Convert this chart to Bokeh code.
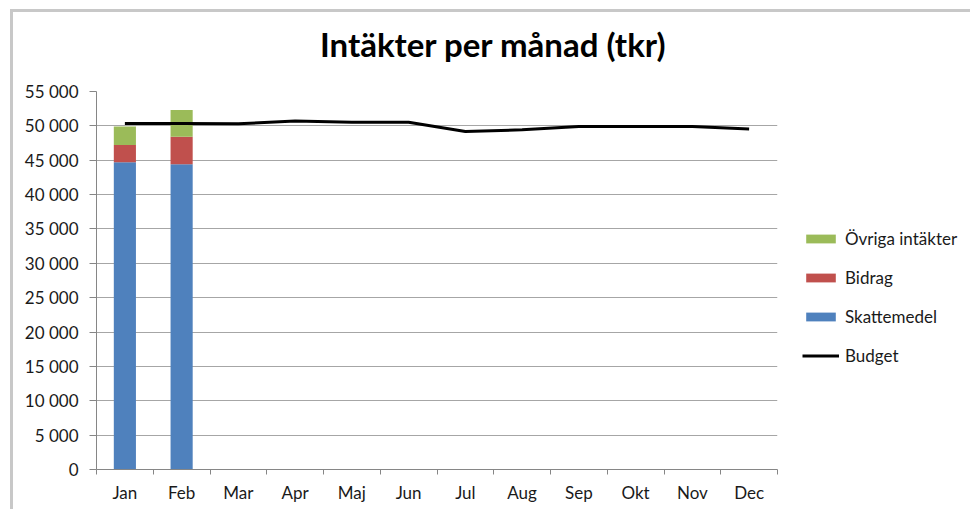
from bokeh.plotting import figure
from bokeh.models import (FixedTicker, Legend, LegendItem, Range1d, ColumnDataSource, Div)
from bokeh.layouts import column
from bokeh.embed import file_html
from bokeh.resources import INLINE

# ---- data ----
months = ["Jan", "Feb", "Mar", "Apr", "Maj", "Jun", "Jul", "Aug", "Sep", "Okt", "Nov", "Dec"]
actual_months = ["Jan", "Feb"]
skattemedel = [44700, 44400]
bidrag = [2500, 4000]
ovriga = [2700, 3900]
budget = [50330, 50330, 50300, 50700, 50540, 50540, 49170, 49420, 49900, 49900, 49900, 49560]
y_ticks = [0, 5000, 10000, 15000, 20000, 25000, 30000, 35000, 40000, 45000, 50000, 55000]
y_tick_labels = ["0", "5 000", "10 000", "15 000", "20 000", "25 000", "30 000",
                 "35 000", "40 000", "45 000", "50 000", "55 000"]
title_text = "Intäkter per månad (tkr)"
series_names = ["Skattemedel", "Bidrag", "Övriga intäkter"]
series_colors = ["#4F81BD", "#C0504D", "#9BBB59"]
budget_name = "Budget"

FONT = "Lato"
FRAME_W, FRAME_H = 681, 378
LEFT, RIGHT, TOP, BOTTOM = 83, 188, 26, 40
FIG_W = LEFT + FRAME_W + RIGHT

# month centre positions on a numeric axis (one unit per month)
centers = [i + 0.5 for i in range(len(months))]
bar_x = [months.index(m) + 0.5 for m in actual_months]

bar_src = ColumnDataSource(dict(x=bar_x, Skattemedel=skattemedel, Bidrag=bidrag, Ovriga=ovriga))
line_src = ColumnDataSource(dict(x=centers, budget=budget))

p = figure(output_backend="svg", toolbar_location=None,
           x_range=Range1d(0, len(months)), y_range=Range1d(0, 55000),
           frame_width=FRAME_W, frame_height=FRAME_H)
p.min_border_left = LEFT
p.min_border_top = TOP
p.min_border_right = RIGHT
p.min_border_bottom = BOTTOM
p.outline_line_color = None
p.background_fill_color = "white"
p.border_fill_color = "white"
p.margin = 0

renderers = p.vbar_stack(["Skattemedel", "Bidrag", "Ovriga"], x="x", width=0.39,
                         color=series_colors, source=bar_src, line_color=None)
line_r = p.line("x", "budget", source=line_src, line_color="black", line_width=3)

# axes
p.yaxis.ticker = FixedTicker(ticks=y_ticks)
p.yaxis.major_label_overrides = {t_: l for t_, l in zip(y_ticks, y_tick_labels)}
p.yaxis.axis_line_color = "#868686"
p.yaxis.major_tick_line_color = "#868686"
p.yaxis.major_tick_out = 7
p.yaxis.major_tick_in = 0
p.yaxis.minor_tick_line_color = None
p.yaxis.major_label_standoff = 11
p.yaxis.major_label_text_font = FONT
p.yaxis.major_label_text_font_size = "17px"
p.yaxis.major_label_text_color = "#1a1a1a"

p.xaxis.ticker = FixedTicker(ticks=centers, minor_ticks=list(range(len(months) + 1)))
p.xaxis.major_label_overrides = {c: m for c, m in zip(centers, months)}
p.xaxis.axis_line_color = "#868686"
p.xaxis.major_tick_line_color = None
p.xaxis.major_tick_out = 0
p.xaxis.major_tick_in = 0
p.xaxis.minor_tick_line_color = "#868686"
p.xaxis.minor_tick_out = 5
p.xaxis.minor_tick_in = 0
p.xaxis.major_label_standoff = 7
p.xaxis.major_label_text_font = FONT
p.xaxis.major_label_text_font_size = "17px"
p.xaxis.major_label_text_color = "#1a1a1a"

p.xgrid.grid_line_color = None
p.ygrid.grid_line_color = "#a6a6a6"
p.ygrid.grid_line_width = 1

items = [LegendItem(label=series_names[2], renderers=[renderers[2]]),
         LegendItem(label=series_names[1], renderers=[renderers[1]]),
         LegendItem(label=series_names[0], renderers=[renderers[0]]),
         LegendItem(label=budget_name, renderers=[line_r])]
legend = Legend(items=items, location=(25, 103), orientation="vertical",
                glyph_width=37, glyph_height=11, label_height=20, spacing=18,
                label_standoff=6, padding=0, margin=0,
                border_line_color=None, background_fill_alpha=0,
                label_text_font=FONT, label_text_font_size="17px", label_text_color="#1a1a1a")
p.add_layout(legend, "right")

title_div = Div(
    text=('<div style="padding-left:307px; padding-top:13px; font-family:Lato; '
          'font-size:33px; font-weight:bold; line-height:1.2; color:black; '
          'white-space:nowrap">' + title_text + '</div>'),
    width=FIG_W, height=53, margin=0)

layout = column(title_div, p, spacing=0, margin=0,
                styles={"border-left": "3px solid #c8c8c8", "border-top": "3px solid #c8c8c8",
                        "margin-left": "10px", "margin-top": "9px",
                        "background-color": "white"})

open("out.html", "w").write(file_html(layout, INLINE))
